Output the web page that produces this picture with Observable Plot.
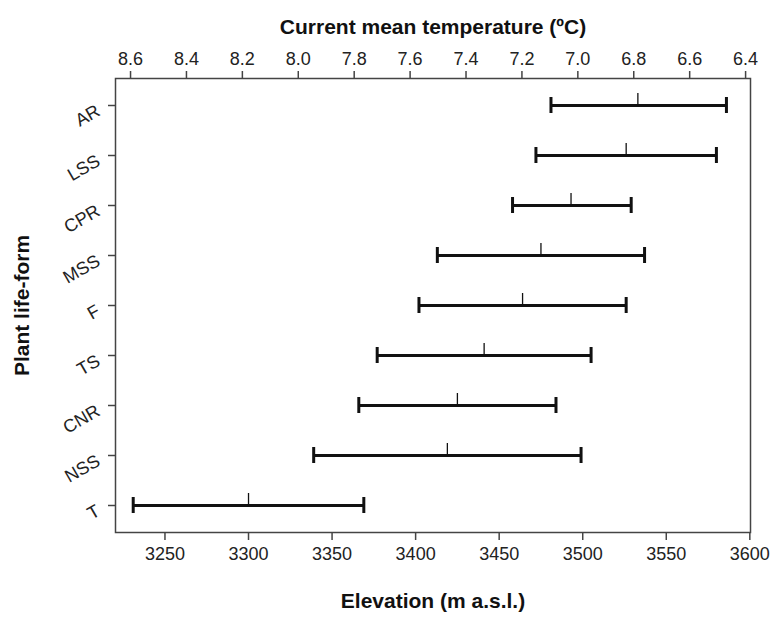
<!DOCTYPE html>
<html>
<head>
<meta charset="utf-8">
<script src="https://cdn.jsdelivr.net/npm/d3@7"></script>
<script src="https://cdn.jsdelivr.net/npm/@observablehq/plot@0.6"></script>
<style>
  html, body { margin: 0; padding: 0; background: #fff; }
</style>
</head>
<body>
<div id="chart"></div>
<script>
// ---- data ----
const forms = ["AR", "LSS", "CPR", "MSS", "F", "TS", "CNR", "NSS", "T"];
const lower = [3481, 3472, 3458, 3413, 3402, 3377, 3366, 3339, 3231];
const mean  = [3533, 3526, 3493, 3475, 3464, 3441, 3425, 3419, 3300];
const upper = [3586, 3580, 3529, 3537, 3526, 3505, 3484, 3499, 3369];

const elevationTicks = [3250, 3300, 3350, 3400, 3450, 3500, 3550, 3600];
const temperatureTicks = [8.6, 8.4, 8.2, 8.0, 7.8, 7.6, 7.4, 7.2, 7.0, 6.8, 6.6, 6.4];
// linear relation between temperature and elevation on the secondary axis
const tempRef = 8.6, elevAtTempRef = 3229.4, metresPerDegree = 167.3;
const tempToElev = t => elevAtTempRef + (tempRef - t) * metresPerDegree;

const rows = forms.map((f, i) => ({form: f, lo: lower[i], mean: mean[i], hi: upper[i]}));
const tempRows = temperatureTicks.map(t => ({t, e: tempToElev(t)}));

const chart = Plot.plot({
  width: 774,
  height: 617,
  marginLeft: 115,
  marginRight: 24,
  marginTop: 78,
  marginBottom: 85,
  style: {fontFamily: "'Liberation Sans', Arial, sans-serif", fontSize: "18px", color: "#222", background: "#fff"},
  x: {domain: [3220.4, 3600.4]},
  y: {domain: forms, type: "band", padding: 0},
  marks: [
    Plot.frame({stroke: "#444", strokeWidth: 1.5}),
    Plot.axisX({anchor: "bottom", ticks: elevationTicks, tickSize: 8, tickPadding: 7, label: null, tickFormat: d => String(d), stroke: "#444", strokeWidth: 1.5}),
    Plot.axisX({anchor: "top", ticks: tempRows.map(d => d.e), tickSize: 8, tickPadding: 6, label: null,
      tickFormat: e => (tempRef - (e - elevAtTempRef) / metresPerDegree).toFixed(1), stroke: "#444", strokeWidth: 1.5}),
    // y tick marks
    Plot.axisY({anchor: "left", tickSize: 7, tickFormat: () => "", label: null, stroke: "#444", strokeWidth: 1.5}),
    // y tick labels (rotated, offset below the tick like the reference)
    Plot.axisY({anchor: "left", tickSize: 0, tickPadding: 17, tickRotate: -30, dy: 4, label: null}),
    Plot.ruleY(rows, {y: "form", x1: "lo", x2: "hi", stroke: "#111", strokeWidth: 3}),
    Plot.tickX(rows, {x: "lo", y: "form", stroke: "#111", strokeWidth: 3, insetTop: 17, insetBottom: 17}),
    Plot.tickX(rows, {x: "hi", y: "form", stroke: "#111", strokeWidth: 3, insetTop: 17, insetBottom: 17}),
    Plot.tickX(rows, {x: "mean", y: "form", stroke: "#111", strokeWidth: 1.3, insetTop: 13, insetBottom: 25.2}),
    Plot.text(["Current mean temperature (ºC)"], {frameAnchor: "top", dy: -59, fontWeight: "bold", fontSize: 21, fill: "#111"}),
    Plot.text(["Elevation (m a.s.l.)"], {frameAnchor: "bottom", dy: 75, fontWeight: "bold", fontSize: 21, fill: "#111"}),
    Plot.text(["Plant life-form"], {frameAnchor: "left", dx: -93, rotate: -90, textAnchor: "middle", fontWeight: "bold", fontSize: 21, fill: "#111"})
  ]
});
document.getElementById("chart").appendChild(chart);
</script>
</body>
</html>
